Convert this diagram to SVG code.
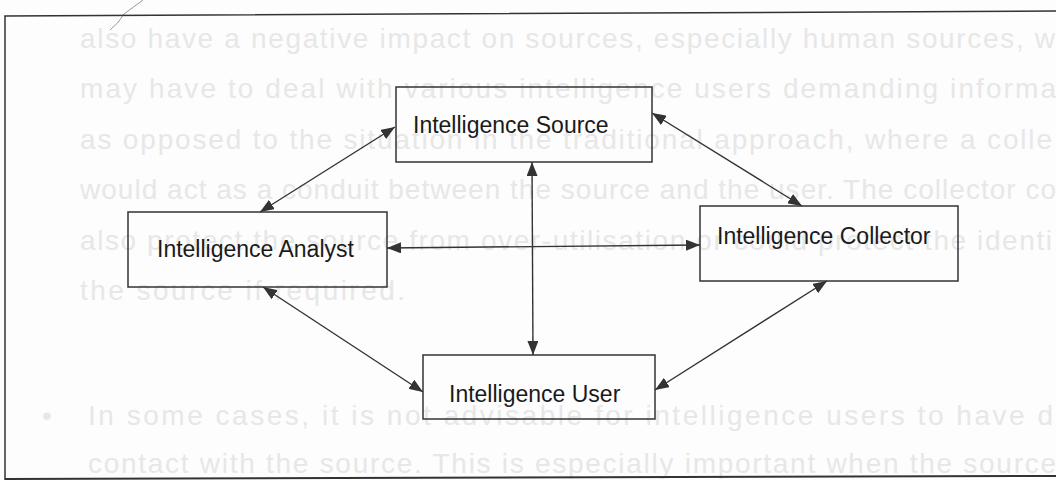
<svg xmlns="http://www.w3.org/2000/svg" width="1056" height="480" viewBox="0 0 1056 480">
<style>
.bg{font-family:"Liberation Sans",Arial,sans-serif;font-size:28px;fill:#e7e7e7}
.box{fill:none;stroke:#333;stroke-width:1.5}
.lbl{font-family:"Liberation Sans",Arial,sans-serif;font-size:23px;fill:#1a1a1a}
.con{stroke:#333;stroke-width:1.4;fill:none;marker-start:url(#ah);marker-end:url(#ah)}
</style>
<defs>
<marker id="ah" viewBox="0 0 14 11" refX="14" refY="5.5" markerWidth="14" markerHeight="11" markerUnits="userSpaceOnUse" orient="auto-start-reverse">
<path d="M0,0 L14,5.5 L0,11 Z" fill="#333"/>
</marker>
</defs>
<rect width="1056" height="480" fill="#fdfdfd"/>
<g id="page-text">
<text class="bg" x="80" y="48" textLength="975" lengthAdjust="spacing">also have a negative impact on sources, especially human sources, w</text>
<text class="bg" x="80" y="98" textLength="976" lengthAdjust="spacing">may have to deal with various intelligence users demanding informa</text>
<text class="bg" x="80" y="149" textLength="972" lengthAdjust="spacing">as opposed to the situation in the traditional approach, where a colle</text>
<text class="bg" x="80" y="199" textLength="976" lengthAdjust="spacing">would act as a conduit between the source and the user. The collector co</text>
<text class="bg" x="80" y="250" textLength="972" lengthAdjust="spacing">also protect the source from over-utilisation or could protect the identi</text>
<text class="bg" x="80" y="300" textLength="325" lengthAdjust="spacing">the source if required.</text>
<text class="bg" x="42" y="425">•</text>
<text class="bg" x="88" y="425" textLength="965" lengthAdjust="spacing">In some cases, it is not advisable for intelligence users to have d</text>
<text class="bg" x="88" y="473" textLength="968" lengthAdjust="spacing">contact with the source. This is especially important when the source</text>
</g>
<g id="frame">
<path d="M110,30 Q118,24 124,14 L143,0" fill="none" stroke="#999" stroke-width="1"/>
<path d="M1056,11 L5,16 L5,480" fill="none" stroke="#333" stroke-width="1.5"/>
<path d="M5,479 L1056,476" fill="none" stroke="#333" stroke-width="2"/>
</g>
<g id="connectors">
<line class="con" x1="260" y1="212" x2="395" y2="127"/>
<line class="con" x1="652" y1="113" x2="802" y2="206"/>
<line class="con" x1="387" y1="248" x2="700" y2="245"/>
<line class="con" x1="532" y1="162" x2="533" y2="355"/>
<line class="con" x1="263" y1="287" x2="423" y2="392"/>
<line class="con" x1="827" y1="281" x2="655" y2="390"/>
</g>
<g id="node-source">
<rect class="box" x="396" y="87" width="256" height="75"/>
<text class="lbl" x="413" y="133">Intelligence Source</text>
</g>
<g id="node-analyst">
<rect class="box" x="128" y="212" width="259" height="75"/>
<text class="lbl" x="157" y="257">Intelligence Analyst</text>
</g>
<g id="node-collector">
<rect class="box" x="700" y="206" width="258" height="75"/>
<text class="lbl" x="717" y="244">Intelligence Collector</text>
</g>
<g id="node-user">
<rect class="box" x="423" y="355" width="232" height="64"/>
<text class="lbl" x="449" y="402">Intelligence User</text>
</g>
</svg>
